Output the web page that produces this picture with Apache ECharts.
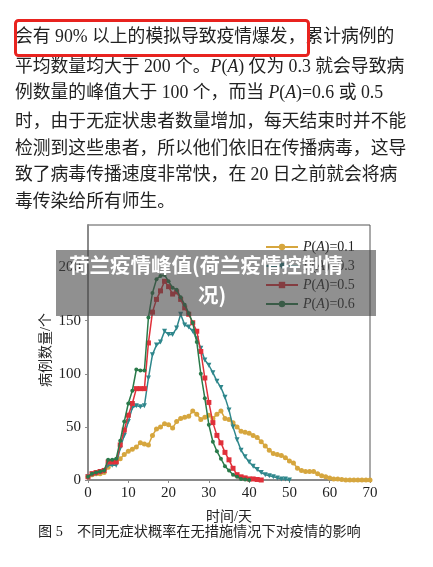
<!DOCTYPE html>
<html><head><meta charset="utf-8">
<script src="https://cdn.jsdelivr.net/npm/echarts@6/dist/echarts.min.js"></script>
<style>html,body{margin:0;padding:0;background:#fff}#c{width:433px;height:567px}</style>
</head><body><div id="c"></div>
<script>
const days = [0,1,2,3,4,5,6,7,8,9,10,11,12,13,14,15,16,17,18,19,20,21,22,23,24,25,26,27,28,29,30,31,32,33,34,35,36,37,38,39,40,41,42,43,44,45,46,47,48,49,50,51,52,53,54,55,56,57,58,59,60,61,62,63,64,65,66,67,68,69,70];
const seriesNames = ['P(A)=0.1','P(A)=0.3','P(A)=0.5','P(A)=0.6'];
const p01 = [3,5,6,6,7,12,15,17,20,24,27,29,31,35,34,33,42,48,50,53,52,49,55,58,59,60,65,62,57,59,61,58,62,65,58,57,54,50,46,45,44,42,40,36,32,28,25,24,23,21,18,16,11,9,8,8,8,6,4,3,2,1,1,0.5,0,0,0,0,0,0,0];
const p03 = [3,5,6,7,8,14,14,14,30,42,55,68,70,69,70,96,118,127,130,140,137,137,143,156,146,144,140,133,124,113,108,101,93,87,78,66,50,38,28,22,17,13,10,7,5,4,3,2,1,1,0];
const p05 = [3,6,7,8,9,17,17,17,33,47,61,72,86,86,86,129,158,170,178,187,182,175,177,170,162,156,148,140,121,96,73,54,42,35,26,19,11,5,3,2,1,1,0.5,0];
const p06 = [3,6,7,8,9,19,19,20,37,55,72,84,104,103,103,153,176,189,192,193,187,181,179,172,165,157,148,130,100,77,52,36,27,20,13,9,5,3,1,0.5,0];
const xTicks = [0,10,20,30,40,50,60,70];
const yTicks = [0,50,100,150,200];
const paragraph = [
  '会有 90% 以上的模拟导致疫情爆发，累计病例的',
  '平均数量均大于 200 个。{i|P}({i|A}) 仅为 0.3 就会导致病',
  '例数量的峰值大于 100 个，而当 {i|P}({i|A})=0.6 或 0.5',
  '时，由于无症状患者数量增加，每天结束时并不能',
  '检测到这些患者，所以他们依旧在传播病毒，这导',
  '致了病毒传播速度非常快，在 20 日之前就会将病',
  '毒传染给所有师生。'
];
const bannerLines = ['荷兰疫情峰值(荷兰疫情控制情','况)'];
const caption = '图 5　不同无症状概率在无措施情况下对疫情的影响';
const xName = '时间/天';
const yName = '病例数量/个';

const FONT = "'Liberation Serif','Noto Sans CJK SC',serif";
const colors = ['#d6a63e','#2f878c','#e0303a','#2a7a4a'];
const symbols = ['circle','triangle','rect','circle'];
const symRot = [0,180,0,0];
const symSize = [5,5,5,4];
const allData = [p01,p03,p05,p06];

const chart = echarts.init(document.getElementById('c'), null, {renderer:'canvas'});
const lineY = [37,67,93,122,149,175,202];
const FS = 17.8;
const graphics = paragraph.map((t,i)=>({
  type:'text', x:15, y:lineY[i], z:10,
  style:{text:t, font:FS+"px "+FONT, fill:'#222', verticalAlign:'middle',
    rich:{i:{fontStyle:'italic', fontFamily:FONT, fontSize:FS, fill:'#222'}}}
}));
graphics.push({type:'rect', left:13, top:18, z:11, shape:{width:293,height:35,r:3},
  style:{fill:'none', stroke:'#e8231f', lineWidth:3}});
graphics.push({type:'rect', left:56, top:250, z:100, shape:{width:320,height:66},
  style:{fill:'rgba(70,70,70,0.6)'}});
graphics.push({type:'text', x:206, y:265, z:101,
  style:{text:bannerLines[0], font:"bold 20.5px 'Noto Sans CJK SC'", fill:'#fff', align:'center', verticalAlign:'middle'}});
graphics.push({type:'text', x:212, y:295, z:101,
  style:{text:bannerLines[1], font:"bold 20.5px 'Noto Sans CJK SC'", fill:'#fff', align:'center', verticalAlign:'middle'}});
graphics.push({type:'text', x:38, y:532, z:10,
  style:{text:caption, font:"14.2px "+FONT, fill:'#222', verticalAlign:'middle'}});
graphics.push({type:'text', x:46, y:350, z:10, rotation:Math.PI/2,
  style:{text:yName, font:"14px "+FONT, fill:'#222', align:'center', verticalAlign:'middle'}});

chart.setOption({
  animation:false,
  backgroundColor:'#fff',
  grid:{left:88, right:63, top:225, bottom:87, show:true, borderColor:'#555', borderWidth:1, containLabel:false},
  legend:{
    orient:'vertical', left:265, top:240, itemWidth:32, itemHeight:8, itemGap:5,
    padding:0,
    data:seriesNames,
    formatter: n => n.replace('P','{i|P}').replace('A','{i|A}'),
    textStyle:{fontFamily:FONT, fontSize:14, color:'#222', lineHeight:14,
      rich:{i:{fontStyle:'italic', fontFamily:FONT, fontSize:14, color:'#222', lineHeight:14}}}
  },
  xAxis:{type:'value', min:0, max:70, interval:10,
    name:xName, nameLocation:'middle', nameGap:30,
    nameTextStyle:{fontFamily:FONT, fontSize:14, color:'#222'},
    axisLine:{show:true, lineStyle:{color:'#8a8a8a', width:2}},
    axisTick:{show:true, length:3, lineStyle:{color:'#8a8a8a'}},
    axisLabel:{fontFamily:FONT, fontSize:15, color:'#222', margin:6},
    splitLine:{show:false}},
  yAxis:{type:'value', min:0, max:240,
    axisLine:{show:true, lineStyle:{color:'#8a8a8a', width:2}},
    axisTick:{show:true, length:3, customValues:yTicks, lineStyle:{color:'#8a8a8a'}},
    axisLabel:{fontFamily:FONT, fontSize:15, color:'#222', margin:7, customValues:yTicks},
    splitLine:{show:false}},
  series: allData.map((arr,k)=>({
    type:'line', name:seriesNames[k],
    data: arr.map((v,i)=>[days[i], v]),
    symbol:symbols[k], symbolRotate:symRot[k], symbolSize:symSize[k], showAllSymbol:true,
    lineStyle:{color:colors[k], width:1.5},
    itemStyle:{color:colors[k]},
    z: 2+k
  })),
  graphic: graphics
});
</script></body></html>
